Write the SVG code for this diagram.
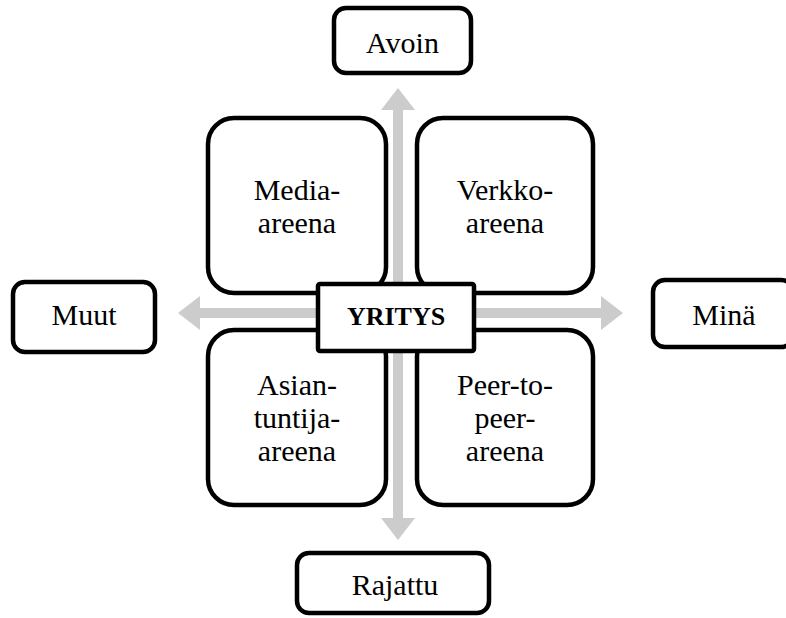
<svg xmlns="http://www.w3.org/2000/svg" width="786" height="618" viewBox="0 0 786 618">
  <style>
    .box { fill: #ffffff; stroke: #000000; stroke-width: 4.5; }
    .hub { fill: #ffffff; stroke: #000000; stroke-width: 4.5; }
    .axis { fill: #cccccc; stroke: none; }
    text { font-family: "Liberation Serif", "Times New Roman", serif; fill: #000000; text-anchor: middle; }
    .lbl { font-size: 30px; }
    .hubl { font-size: 26px; font-weight: bold; }
  </style>
  <rect width="786" height="618" fill="#ffffff"/>

  <!-- axis arrows, drawn first so the boxes sit on top -->
  <g id="connectors">
    <polygon class="axis" points="398,88 415,110 403,110 403,518 415,518 398,540 381,518 393,518 393,110 381,110"/>
    <polygon class="axis" points="178,313 200,296 200,308 601,308 601,296 623,313 601,330 601,318 200,318 200,330"/>
  </g>

  <g id="avoin">
    <rect class="box" x="334" y="8" width="137" height="65" rx="12"/>
    <text class="lbl" x="402.5" y="53">Avoin</text>
  </g>
  <g id="muut">
    <rect class="box" x="13" y="282" width="142" height="70" rx="12"/>
    <text class="lbl" x="84" y="325">Muut</text>
  </g>
  <g id="mina">
    <rect class="box" x="653" y="280" width="140" height="67" rx="12"/>
    <text class="lbl" x="724" y="325">Minä</text>
  </g>
  <g id="rajattu">
    <rect class="box" x="297" y="553" width="192" height="60" rx="12"/>
    <text class="lbl" x="395" y="595">Rajattu</text>
  </g>

  <g id="media-areena">
    <rect class="box" x="208" y="118" width="178" height="175" rx="26"/>
    <text class="lbl" x="297" y="200">Media-</text>
    <text class="lbl" x="297" y="233">areena</text>
  </g>
  <g id="verkko-areena">
    <rect class="box" x="417" y="118" width="176" height="175" rx="26"/>
    <text class="lbl" x="505" y="200">Verkko-</text>
    <text class="lbl" x="505" y="233">areena</text>
  </g>
  <g id="asiantuntija-areena">
    <rect class="box" x="208" y="330" width="178" height="175" rx="26"/>
    <text class="lbl" x="297" y="395">Asian-</text>
    <text class="lbl" x="297" y="428">tuntija-</text>
    <text class="lbl" x="297" y="461">areena</text>
  </g>
  <g id="peer-to-peer-areena">
    <rect class="box" x="417" y="330" width="176" height="175" rx="26"/>
    <text class="lbl" x="505" y="395">Peer-to-</text>
    <text class="lbl" x="505" y="428">peer-</text>
    <text class="lbl" x="505" y="461">areena</text>
  </g>

  <!-- centre hub overlaps the four arenas -->
  <g id="yritys">
    <rect class="hub" x="318" y="284" width="156" height="67" rx="2"/>
    <text class="hubl" x="396" y="325">YRITYS</text>
  </g>
</svg>
